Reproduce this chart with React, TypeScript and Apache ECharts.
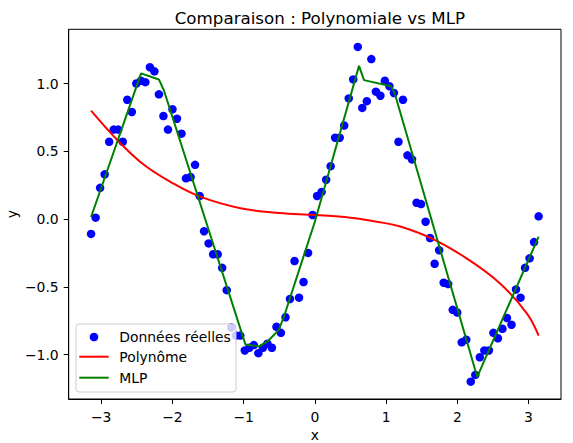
import React, { useEffect, useRef } from "react";
import * as echarts from "echarts";

const xs = [
  -3.142, -3.078, -3.015, -2.951, -2.888, -2.824, -2.761, -2.697, -2.634, -2.57,
  -2.507, -2.443, -2.38, -2.316, -2.253, -2.189, -2.126, -2.062, -1.999, -1.936,
  -1.872, -1.809, -1.745, -1.682, -1.618, -1.555, -1.491, -1.428, -1.364, -1.301,
  -1.237, -1.174, -1.11, -1.047, -0.983, -0.92, -0.857, -0.793, -0.73, -0.666,
  -0.603, -0.539, -0.476, -0.412, -0.349, -0.285, -0.222, -0.159, -0.095, -0.032,
  0.032, 0.095, 0.159, 0.222, 0.285, 0.349, 0.412, 0.476, 0.539, 0.603,
  0.666, 0.73, 0.793, 0.857, 0.92, 0.983, 1.047, 1.11, 1.174, 1.237,
  1.301, 1.364, 1.428, 1.491, 1.555, 1.618, 1.682, 1.745, 1.809, 1.872,
  1.936, 1.999, 2.062, 2.126, 2.189, 2.253, 2.316, 2.38, 2.443, 2.507,
  2.57, 2.634, 2.697, 2.761, 2.824, 2.888, 2.951, 3.015, 3.078, 3.142,
];

const ysReal = [
  -0.11, 0.01, 0.23, 0.33, 0.57, 0.66, 0.66, 0.57, 0.88, 0.79,
  1.0, 1.02, 1.01, 1.12, 1.09, 0.92, 0.76, 0.66, 0.81, 0.74,
  0.63, 0.3, 0.31, 0.4, 0.17, -0.09, -0.18, -0.26, -0.26, -0.36,
  -0.525, -0.8, -0.86, -0.86, -0.97, -0.95, -0.93, -0.99, -0.95, -0.92,
  -0.95, -0.795, -0.84, -0.725, -0.59, -0.31, -0.58, -0.465, -0.25, 0.03,
  0.17, 0.2, 0.29, 0.39, 0.6, 0.6, 0.69, 0.89, 1.03, 1.27,
  0.82, 0.87, 1.18, 0.94, 0.91, 1.02, 0.98, 0.93, 0.57, 0.88,
  0.47, 0.44, 0.12, 0.11, -0.02, -0.14, -0.33, -0.23, -0.47, -0.48,
  -0.67, -0.69, -0.91, -0.89, -1.2, -1.15, -1.02, -0.97, -0.97, -0.84,
  -0.88, -0.81, -0.73, -0.78, -0.52, -0.58, -0.36, -0.29, -0.17, 0.02,
];

const polyX = [-3.142, -2.75, -2.4, -2.03, -1.61, -1.045, -0.5, 0, 0.5, 0.87, 1.2, 1.667, 2.13, 2.6, 2.976, 3.142];
const polyY = [0.8, 0.57, 0.4, 0.275, 0.165, 0.08, 0.045, 0.03, 0.01, -0.02, -0.055, -0.15, -0.29, -0.475, -0.696, -0.86];

const mlpX = [-3.142, -2.44, -2.19, -2.12, -0.975, -0.775, -0.648, -0.508, -0.44, 0.0, 0.62, 0.69, 1.07, 1.12, 2.28, 3.142];
const mlpY = [0.015, 1.075, 1.03, 0.95, -0.925, -0.94, -0.895, -0.82, -0.73, -0.02, 1.13, 1.025, 0.98, 0.93, -1.165, -0.13];

const xTicks = [-3, -2, -1, 0, 1, 2, 3];
const yTicks = [-1, -0.5, 0, 0.5, 1];

const legendLabels = ["Données réelles", "Polynôme", "MLP"];
const FONT = "DejaVu Sans";

export default function App() {
  const ref = useRef<HTMLDivElement>(null);
  useEffect(() => {
    if (!ref.current) return;
    const chart = echarts.init(ref.current, null, { renderer: "svg" });
    const minus = (s: string) => s.replace("-", "\u2212");
    const gl = 68.7, gt = 29.3, gr = 561, gb = 399;
    const lx = 76, ly = 324, lw = 160, lh = 68;
    chart.setOption({
      animation: false,
      backgroundColor: "#fff",
      title: {
        text: "Comparaison : Polynomiale vs MLP",
        left: (gl + gr) / 2,
        top: 4,
        textAlign: "center",
        textStyle: { fontFamily: FONT, fontSize: 16.7, fontWeight: "normal", color: "#000" },
      },
      grid: {
        left: gl,
        top: gt,
        right: 573 - gr,
        bottom: 443 - gb,
        containLabel: false,
        outerBoundsMode: "none",
        show: true,
        borderColor: "#000",
        borderWidth: 1,
      },
      xAxis: {
        type: "value",
        min: -3.456,
        max: 3.456,
        name: "x",
        nameLocation: "middle",
        nameGap: 29,
        nameMoveOverlap: false,
        nameTextStyle: { fontFamily: FONT, fontSize: 13.9, color: "#000" },
        splitLine: { show: false },
        axisLine: { show: true, onZero: false, lineStyle: { color: "#000", width: 1 } },
        axisTick: { show: true, length: 5, customValues: xTicks, lineStyle: { color: "#000" } },
        axisLabel: {
          customValues: xTicks,
          margin: 11,
          fontFamily: FONT,
          fontSize: 13.9,
          color: "#000",
          formatter: (v: number) => minus(String(v)),
        },
      },
      yAxis: {
        type: "value",
        min: -1.328,
        max: 1.4,
        name: "y",
        nameLocation: "middle",
        nameGap: 50,
        nameRotate: 90,
        nameMoveOverlap: false,
        nameTextStyle: { fontFamily: FONT, fontSize: 13.9, color: "#000" },
        splitLine: { show: false },
        axisLine: { show: true, onZero: false, lineStyle: { color: "#000", width: 1 } },
        axisTick: { show: true, length: 5, customValues: yTicks, lineStyle: { color: "#000" } },
        axisLabel: {
          customValues: yTicks,
          margin: 10,
          fontFamily: FONT,
          fontSize: 13.9,
          color: "#000",
          formatter: (v: number) => minus(v.toFixed(1)),
        },
      },
      series: [
        {
          name: legendLabels[0],
          type: "scatter",
          symbol: "circle",
          symbolSize: 8.5,
          itemStyle: { color: "#0000ff", opacity: 1 },
          data: xs.map((x, i) => [x, ysReal[i]]),
        },
        {
          name: legendLabels[1],
          type: "line",
          smooth: 0.4,
          showSymbol: false,
          lineStyle: { color: "#ff0000", width: 2 },
          data: polyX.map((x, i) => [x, polyY[i]]),
        },
        {
          name: legendLabels[2],
          type: "line",
          showSymbol: false,
          lineStyle: { color: "#008000", width: 2 },
          data: mlpX.map((x, i) => [x, mlpY[i]]),
        },
      ],
      graphic: [
        {
          type: "group",
          z: 100,
          children: [
            {
              type: "rect",
              shape: { x: lx, y: ly, width: lw, height: lh, r: 3 },
              style: { fill: "rgba(255,255,255,0.8)", stroke: "#cccccc", lineWidth: 1 },
              z: 100,
            },
            { type: "circle", shape: { cx: 94, cy: 337, r: 4.3 }, style: { fill: "#0000ff" }, z: 101 },
            { type: "line", shape: { x1: 79.3, y1: 356.7, x2: 108.7, y2: 356.7 }, style: { stroke: "#ff0000", lineWidth: 2 }, z: 101 },
            { type: "line", shape: { x1: 79.3, y1: 377.7, x2: 108.7, y2: 377.7 }, style: { stroke: "#008000", lineWidth: 2 }, z: 101 },
            { type: "text", x: 119.3, y: 337, style: { text: legendLabels[0], fontFamily: FONT, fontSize: 13.9, fill: "#000", verticalAlign: "middle" }, z: 101 },
            { type: "text", x: 119.3, y: 357, style: { text: legendLabels[1], fontFamily: FONT, fontSize: 13.9, fill: "#000", verticalAlign: "middle" }, z: 101 },
            { type: "text", x: 119.3, y: 378, style: { text: legendLabels[2], fontFamily: FONT, fontSize: 13.9, fill: "#000", verticalAlign: "middle" }, z: 101 },
          ],
        },
      ],
    });
    return () => chart.dispose();
  }, []);
  return (
    <div
      ref={ref}
      style={{ position: "fixed", left: 0, top: 0, width: 573, height: 443 }}
    />
  );
}
